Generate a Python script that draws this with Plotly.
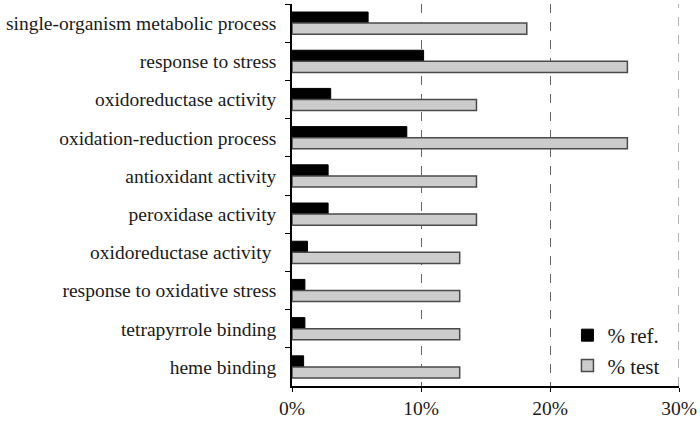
import plotly.graph_objects as go

terms = ["single-organism metabolic process", "response to stress", "oxidoreductase activity",
         "oxidation-reduction process", "antioxidant activity", "peroxidase activity",
         "oxidoreductase activity ", "response to oxidative stress", "tetrapyrrole binding",
         "heme binding"]
ref_pct = [5.9, 10.2, 3.0, 8.9, 2.8, 2.8, 1.2, 1.0, 1.0, 0.9]
test_pct = [18.2, 26.0, 14.3, 26.0, 14.3, 14.3, 13.0, 13.0, 13.0, 13.0]
x_ticks = [0, 10, 20, 30]
x_tick_labels = ["0%", "10%", "20%", "30%"]

serif = "Liberation Serif"

fig = go.Figure()
fig.add_trace(go.Bar(y=terms, x=ref_pct, orientation="h", name="% ref.",
                     marker=dict(color="black", line=dict(color="black", width=1))))
fig.add_trace(go.Bar(y=terms, x=test_pct, orientation="h", name="% test",
                     marker=dict(color="#cccccc", line=dict(color="#4a4a4a", width=1.5))))

fig.update_layout(
    width=700, height=426,
    margin=dict(l=292, r=21, t=4, b=40),
    plot_bgcolor="white", paper_bgcolor="white",
    barmode="group", bargap=0.42, bargroupgap=0,
    font=dict(family=serif, size=19.5, color="#1a1a1a"),
    legend=dict(x=0.965, y=0.0, xanchor="right", yanchor="bottom",
                bgcolor="rgba(0,0,0,0)", traceorder="normal",
                font=dict(family=serif, size=21), itemwidth=30),
)
fig.update_xaxes(range=[0, 30], tickvals=x_ticks, ticktext=x_tick_labels,
                 showline=True, linecolor="black", linewidth=1.5,
                 ticks="outside", ticklen=4, tickcolor="black",
                 showgrid=True, gridcolor="#666666", griddash="dash", gridwidth=1,
                 zeroline=False, automargin=False)
fig.update_yaxes(autorange="reversed", showline=True, linecolor="black", linewidth=1.5,
                 ticks="outside", ticklen=5, tickcolor="black", tickson="boundaries",
                 showgrid=False, automargin=False, ticklabelstandoff=10)
# dashed line at the right end of the axis, like the other gridlines
fig.add_vline(x=x_ticks[-1], line=dict(color="#666666", width=1, dash="dash"))

fig.write_html("out.html", config={"displayModeBar": False},
               post_script="document.body.style.margin='0';")
